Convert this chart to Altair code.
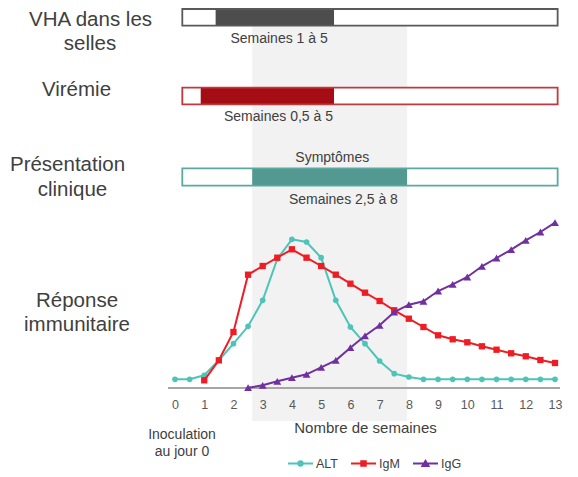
import altair as alt
import pandas as pd

# --- données ---------------------------------------------------------------
alt_weeks = [0, 0.5, 1, 1.5, 2, 2.5, 3, 3.5, 4, 4.5, 5, 5.5, 6, 6.5, 7, 7.5,
             8, 8.5, 9, 9.5, 10, 10.5, 11, 11.5, 12, 12.5, 13]
alt_values = [8.7, 8.7, 12.7, 27.7, 44.3, 61.7, 87.7, 129, 148.7, 146, 130.3,
              87.7, 61, 44.3, 27, 14.3, 11, 8.7, 8.7, 8.7, 8.7, 8.7, 8.7,
              8.7, 8.7, 8.7, 8.7]

igm_weeks = [1, 1.5, 2, 2.5, 3, 3.5, 4, 4.5, 5, 5.5, 6, 6.5, 7, 7.5, 8, 8.5,
             9, 9.5, 10, 10.5, 11, 11.5, 12, 12.5, 13]
igm_values = [7.7, 27.7, 56, 113.3, 122, 130.3, 138.7, 130.3, 122, 113.3,
              104.3, 95.3, 87, 77.7, 69.3, 61, 52.7, 48.7, 45.7, 41.7, 38.3,
              34.7, 31.7, 28, 25]

igg_weeks = [2.5, 3, 3.5, 4, 4.5, 5, 5.5, 6, 6.5, 7, 7.5, 8, 8.5, 9, 9.5,
             10, 10.5, 11, 11.5, 12, 12.5, 13]
igg_values = [0.3, 2.7, 6.7, 10.3, 13.7, 20.7, 27.7, 40.3, 52.2, 62.7, 76,
              83.3, 86.7, 97, 103.7, 111, 121.7, 130, 138.3, 147.7, 156, 165.3]

series = ["ALT", "IgM", "IgG"]
series_colors = ["#4dc4b8", "#ee1d23", "#7030a0"]
series_shapes = ["circle", "square", "triangle-up"]
series_sizes = [32, 40, 62]

# périodes (semaines) : selles, virémie, présentation clinique
period_start = [1.39, 0.88, 2.64]
period_end = [5.44, 5.44, 7.94]
frame_start = 0.25
frame_end = 13.09
period_labels = ["Semaines 1 à 5", "Semaines 0,5 à 5", "Semaines 2,5 à 8"]
week_ticks = list(range(14))

series_data = [
    pd.DataFrame({"semaine": alt_weeks, "niveau": alt_values, "serie": "ALT"}),
    pd.DataFrame({"semaine": igm_weeks, "niveau": igm_values, "serie": "IgM"}),
    pd.DataFrame({"semaine": igg_weeks, "niveau": igg_values, "serie": "IgG"}),
]

TXT = "#404040"
xs = alt.Scale(domain=[-5.713, 13.513], nice=False, zero=False)
ys = alt.Scale(domain=[0, 380], nice=False)
x_axis = alt.Axis(values=week_ticks, domain=False, ticks=False, grid=False, zindex=2,
                  labelFontSize=12.5, labelColor="#595959", labelPadding=10,
                  title="Nombre de semaines", titleFontSize=15,
                  titleFontWeight="normal", titleColor=TXT,
                  titleX=357, titleY=39, titleBaseline="middle", titleAlign="center")


def X(field):
    return alt.X(field, scale=xs, axis=x_axis)


def span_rect(start, end, y0, y1, **style):
    return alt.Chart(pd.DataFrame({"a": [start], "b": [end]})).mark_rect(**style).encode(
        x=X("a:Q"), x2="b:Q", y=alt.value(y0), y2=alt.value(y1))


# --- bande grise (symptômes) ----------------------------------------------
band = span_rect(period_start[2], period_end[2], 17.7, 413, color="#f2f2f2")


# --- barres de période ----------------------------------------------------
def period_bar(i, y0, y1, fill, stroke):
    return [
        span_rect(frame_start, frame_end, y0, y1, fill="white"),
        span_rect(period_start[i], period_end[i], y0, y1, fill=fill),
        span_rect(frame_start, frame_end, y0, y1, fill="transparent",
                  stroke=stroke, strokeWidth=1.8),
    ]


bars = (period_bar(0, 1, 17.7, "#4d4d4d", "#595959")
        + period_bar(1, 79.7, 96.3, "#a50d14", "#c3383d")
        + period_bar(2, 160.3, 177.7, "#539992", "#5aa9a1"))


def small_text(txt, week, y):
    return alt.Chart(pd.DataFrame({"t": [txt], "w": [week]})).mark_text(
        fontSize=14, color=TXT, align="center", baseline="middle"
    ).encode(x=X("w:Q"), y=alt.value(y), text="t:N")


bar_texts = [small_text(period_labels[0], 3.56, 31),
             small_text(period_labels[1], 3.54, 109),
             small_text("Symptômes", 5.38, 150),
             small_text(period_labels[2], 5.76, 192)]


def side_text(txt, x, y, size=20.5):
    return alt.Chart(pd.DataFrame({"t": [txt]})).mark_text(
        fontSize=size, color=TXT, align="center", baseline="middle"
    ).encode(x=alt.value(x), y=alt.value(y), text="t:N")


side = [side_text("VHA dans les", 82.5, 11.5), side_text("selles", 82, 36),
        side_text("Virémie", 68.5, 82),
        side_text("Présentation", 59.5, 157), side_text("clinique", 64.5, 182),
        side_text("Réponse", 69, 292.7), side_text("immunitaire", 69, 317),
        side_text("Inoculation", 174, 427, 14), side_text("au jour 0", 174, 444, 14)]

# --- ligne de base ----------------------------------------------------------
baseline = alt.Chart(pd.DataFrame({"a": [-0.24], "b": [13.17], "y": [0]})).mark_rule(
    color="#a6a6a6", strokeWidth=2
).encode(x=X("a:Q"), x2="b:Q", y=alt.Y("y:Q", scale=ys, axis=None))

# --- courbes ----------------------------------------------------------------
curves = []
for k, df in enumerate(series_data):
    base = alt.Chart(df).encode(
        x=X("semaine:Q"),
        y=alt.Y("niveau:Q", scale=ys, axis=None),
    )
    curves.append(base.mark_line(strokeWidth=2, color=series_colors[k]))
    curves.append(base.mark_point(filled=True, opacity=1, size=series_sizes[k],
                                  shape=series_shapes[k], color=series_colors[k]))

# --- légende (trait + marqueur, marqueur rempli par tracés concentriques) ----
legend_paths = [
    "M-1,0H1"
    "M-0.176,0A0.176,0.176,0,1,1,0.176,0A0.176,0.176,0,1,1,-0.176,0Z"
    "M-0.04,0A0.04,0.04,0,1,1,0.04,0A0.04,0.04,0,1,1,-0.04,0Z",
    "M-1,0H1"
    "M-0.18,-0.18H0.18V0.18H-0.18Z"
    "M-0.05,-0.05H0.05V0.05H-0.05Z",
    "M-1,0H1"
    "M-0.24,0.19L0,-0.2L0.24,0.19Z"
    "M-0.08,0.1L0,-0.03L0.08,0.1Z",
]
leg = alt.Legend(title=None, orient="none", legendX=279, legendY=442,
                 direction="horizontal", symbolSize=625, symbolStrokeWidth=2,
                 symbolOpacity=1, labelFontSize=12.5, labelColor=TXT,
                 labelOffset=2, columnPadding=9, padding=0)
legend_layer = alt.Chart(pd.DataFrame({"serie": series})).mark_point(
    filled=False, opacity=0
).encode(
    color=alt.Color("serie:N", scale=alt.Scale(domain=series, range=series_colors),
                    legend=leg),
    shape=alt.Shape("serie:N", scale=alt.Scale(domain=series, range=legend_paths),
                    legend=leg),
    x=alt.value(-50), y=alt.value(-50),
)

chart = alt.layer(
    band, *bars, *bar_texts, *side, baseline, *curves, legend_layer
).properties(
    width=562, height=380,
    autosize=alt.AutoSizeParams(type="none"),
    padding={"left": 0, "right": 0, "top": 0, "bottom": 89},
).configure(font="Liberation Sans").configure_view(stroke="transparent")

chart.save("out.html", embed_options={"renderer": "svg", "actions": False})
